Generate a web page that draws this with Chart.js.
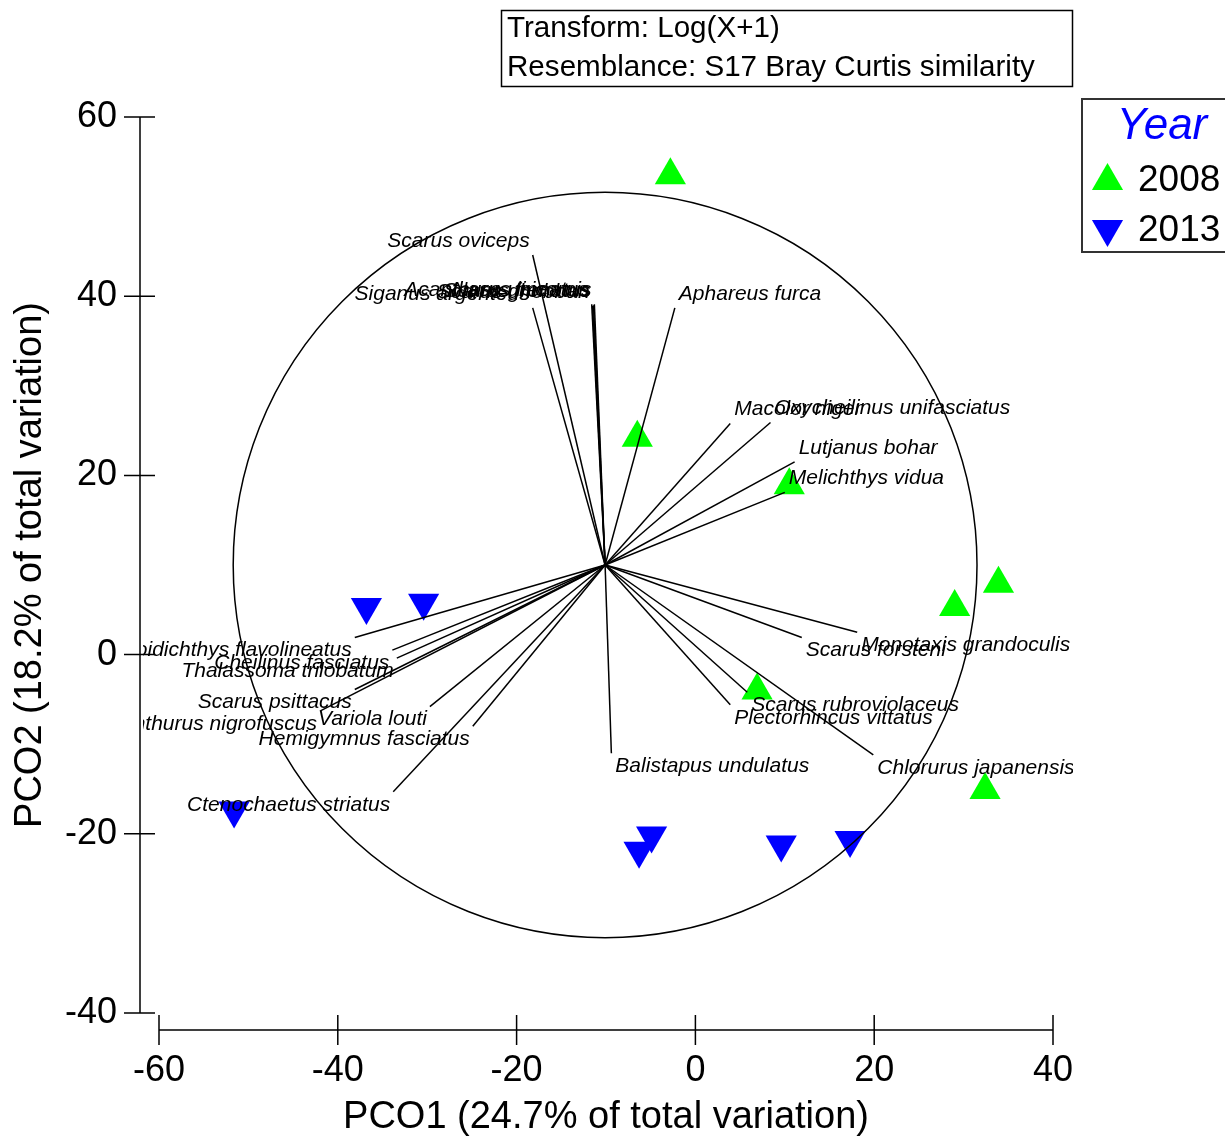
<!DOCTYPE html>
<html>
<head>
<meta charset="utf-8">
<script src="https://cdn.jsdelivr.net/npm/chart.js@4.4.0/dist/chart.umd.min.js"></script>
<style>
  html, body { margin: 0; padding: 0; background: #fff; }
</style>
</head>
<body>
<canvas id="pco" width="1225" height="1140"></canvas>
<script>
// sample scores (PCO1, PCO2)
const x2008 = [-2.8, -6.5, 10.5, 29.0, 33.9, 6.9, 32.4];
const y2008 = [53.5, 24.2, 18.9, 5.3, 7.9, -4.0, -15.1];
const x2013 = [-36.8, -30.4, -51.6, -4.9, -6.3, 9.6, 17.3];
const y2013 = [5.3, 5.8, -17.4, -20.2, -21.9, -21.2, -20.7];

// species vectors, all drawn from the same origin
const vecOrigin = [-10.1, 10.0];
const circleRadius = 41.6;
const species = [
  "Scarus oviceps", "Siganus argenteus", "Acanthurus lineatus", "Scarus ghobban",
  "Scarus frenatus", "Naso unicornis", "Aphareus furca", "Macolor niger",
  "Oxycheilinus unifasciatus", "Lutjanus bohar", "Melichthys vidua",
  "Monotaxis grandoculis", "Scarus forsteni", "Scarus rubroviolaceus",
  "Plectorhincus vittatus", "Chlorurus japanensis", "Balistapus undulatus",
  "Mulloidichthys flavolineatus", "Cheilinus fasciatus", "Thalassoma trilobatum",
  "Scarus psittacus", "Acanthurus nigrofuscus", "Variola louti",
  "Hemigymnus fasciatus", "Ctenochaetus striatus"
];
const vecX = [-18.2, -18.2, -11.6, -11.5, -11.4, -11.3, -2.3, 3.9,
  8.4, 11.1, 10.0, 18.1, 11.9, 5.8, 3.9, 19.9, -9.4,
  -38.1, -33.9, -33.4, -38.1, -42.0, -29.7, -24.9, -33.8];
const vecY = [44.6, 38.7, 39.1, 38.9, 39.0, 39.1, 38.7, 25.8,
  25.9, 21.5, 18.1, 2.5, 1.9, -4.2, -5.6, -11.2, -11.0,
  1.9, 0.5, -0.4, -3.9, -6.3, -5.8, -8.0, -15.3];

const xTicks = [-60, -40, -20, 0, 20, 40];
const yTicks = [-40, -20, 0, 20, 40, 60];
const years = ["2008", "2013"];

const FONT = "'Liberation Sans', Arial, sans-serif";

const pts = (xs, ys) => xs.map((x, i) => ({x: x, y: ys[i]}));

const datasets = [{
  label: years[0],
  data: pts(x2008, y2008),
  pointStyle: 'triangle',
  rotation: 0,
  pointRadius: 18,
  pointBackgroundColor: '#00ff00',
  pointBorderWidth: 0,
  showLine: false,
  order: 2,
  clip: false
}, {
  label: years[1],
  data: pts(x2013, y2013),
  pointStyle: 'triangle',
  rotation: 180,
  pointRadius: 18,
  pointBackgroundColor: '#0000ff',
  pointBorderWidth: 0,
  showLine: false,
  order: 2,
  clip: false
}];

species.forEach((name, i) => {
  datasets.push({
    label: name,
    data: [{x: vecOrigin[0], y: vecOrigin[1]}, {x: vecX[i], y: vecY[i]}],
    showLine: true,
    borderColor: '#000',
    borderWidth: 1.5,
    pointRadius: 0,
    order: 1,
    clip: false
  });
});

// axes drawn offset from the plot, PRIMER style
const offsetAxes = {
  id: 'offsetAxes',
  afterDraw(chart) {
    const {ctx, chartArea, scales: {x, y}} = chart;
    const ax = chartArea.left - 19;
    const ay = chartArea.bottom + 17;
    ctx.save();
    ctx.strokeStyle = '#000';
    ctx.lineWidth = 1.5;
    ctx.beginPath();
    ctx.moveTo(ax, y.getPixelForValue(yTicks[0]));
    ctx.lineTo(ax, y.getPixelForValue(yTicks[yTicks.length - 1]));
    yTicks.forEach(v => {
      const p = y.getPixelForValue(v);
      ctx.moveTo(ax - 16, p);
      ctx.lineTo(ax + 15, p);
    });
    ctx.moveTo(x.getPixelForValue(xTicks[0]), ay);
    ctx.lineTo(x.getPixelForValue(xTicks[xTicks.length - 1]), ay);
    xTicks.forEach(v => {
      const p = x.getPixelForValue(v);
      ctx.moveTo(p, ay - 15);
      ctx.lineTo(p, ay + 15);
    });
    ctx.stroke();
    ctx.restore();
  }
};

// correlation circle + vector labels
const vectorLabels = {
  id: 'vectorLabels',
  afterDatasetsDraw(chart) {
    const {ctx, chartArea, scales: {x, y}} = chart;
    const cx = x.getPixelForValue(vecOrigin[0]);
    const cy = y.getPixelForValue(vecOrigin[1]);
    const rx = Math.abs(x.getPixelForValue(vecOrigin[0] + circleRadius) - cx);
    const ry = Math.abs(y.getPixelForValue(vecOrigin[1] + circleRadius) - cy);
    ctx.save();
    ctx.strokeStyle = '#000';
    ctx.lineWidth = 1.5;
    ctx.beginPath();
    ctx.ellipse(cx, cy, rx, ry, 0, 0, Math.PI * 2);
    ctx.stroke();

    ctx.beginPath();
    ctx.rect(chartArea.left - 16, 0, chartArea.right - chartArea.left + 36, chart.height);
    ctx.clip();
    ctx.fillStyle = '#000';
    ctx.font = 'italic 21px ' + FONT;
    ctx.textBaseline = 'middle';
    species.forEach((name, i) => {
      const px = x.getPixelForValue(vecX[i]);
      const py = y.getPixelForValue(vecY[i]);
      const right = vecX[i] >= vecOrigin[0];
      const up = vecY[i] >= vecOrigin[1];
      ctx.textAlign = right ? 'left' : 'right';
      ctx.fillText(name, right ? px + 4 : px - 3, up ? py - 14 : py + 13);
    });
    ctx.restore();
  }
};

function triangle(ctx, px, py, r, rot, color) {
  if (Chart.helpers && Chart.helpers.drawPoint) {
    ctx.fillStyle = color;
    Chart.helpers.drawPoint(ctx, {pointStyle: 'triangle', radius: r, rotation: rot, borderWidth: 0}, px, py);
    return;
  }
  const a0 = rot * Math.PI / 180;
  ctx.beginPath();
  for (let k = 0; k < 3; k++) {
    const a = a0 + k * 2 * Math.PI / 3;
    ctx.lineTo(px + Math.sin(a) * r, py - Math.cos(a) * r);
  }
  ctx.closePath();
  ctx.fillStyle = color;
  ctx.fill();
}

// header box and legend box
const boxes = {
  id: 'boxes',
  afterDraw(chart) {
    const {ctx} = chart;
    ctx.save();
    ctx.strokeStyle = '#000';
    ctx.lineWidth = 1.5;
    ctx.strokeRect(501.5, 10.5, 571, 76);
    ctx.fillStyle = '#000';
    ctx.font = '29.6px ' + FONT;
    ctx.textAlign = 'left';
    ctx.textBaseline = 'middle';
    ctx.fillText('Transform: Log(X+1)', 507, 29);
    ctx.fillText('Resemblance: S17 Bray Curtis similarity', 507, 68);

    ctx.strokeStyle = '#333';
    ctx.lineWidth = 2;
    ctx.strokeRect(1082, 99, 160, 153);
    ctx.fillStyle = '#0000ff';
    ctx.font = 'italic 44px ' + FONT;
    ctx.textAlign = 'center';
    ctx.fillText('Year', 1162, 127);
    ctx.textAlign = 'left';
    ctx.font = '37px ' + FONT;
    chart.data.datasets.slice(0, 2).forEach((ds, i) => {
      const ly = i === 0 ? 181 : 231;
      triangle(ctx, 1107.5, i === 0 ? 181 : 229, 18, ds.rotation, ds.pointBackgroundColor);
      ctx.fillStyle = '#000';
      ctx.fillText(ds.label, 1138, ly);
    });
    ctx.restore();
  }
};

new Chart(document.getElementById('pco'), {
  type: 'scatter',
  data: { datasets: datasets },
  options: {
    responsive: false,
    animation: false,
    devicePixelRatio: 1,
    layout: { padding: { top: 117, right: 172, left: 0, bottom: 0 } },
    plugins: {
      legend: { display: false },
      tooltip: { enabled: false }
    },
    scales: {
      x: {
        type: 'linear',
        min: -60,
        max: 40,
        afterBuildTicks: s => { s.ticks = xTicks.map(v => ({value: v})); },
        afterFit: s => { s.height = 127; },
        grid: { display: false, drawTicks: false },
        border: { display: false },
        ticks: { color: '#000', padding: 36, font: { family: FONT, size: 36 } },
        title: {
          display: true,
          text: 'PCO1 (24.7% of total variation)',
          color: '#000',
          padding: { top: 0, bottom: 0 },
          font: { family: FONT, size: 38 }
        }
      },
      y: {
        type: 'linear',
        min: -40,
        max: 60,
        afterBuildTicks: s => { s.ticks = yTicks.map(v => ({value: v})); },
        afterFit: s => { s.width = 159; },
        grid: { display: false, drawTicks: false },
        border: { display: false },
        ticks: { color: '#000', padding: 42, font: { family: FONT, size: 36 } },
        title: {
          display: true,
          text: 'PCO2 (18.2% of total variation)',
          color: '#000',
          padding: { top: 8, bottom: 0 },
          font: { family: FONT, size: 38 }
        }
      }
    }
  },
  plugins: [offsetAxes, vectorLabels, boxes]
});
</script>
</body>
</html>
